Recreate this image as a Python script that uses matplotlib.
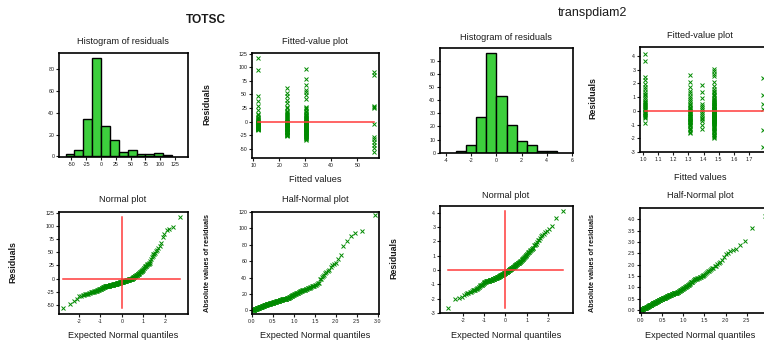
import matplotlib
matplotlib.use('Agg')
import matplotlib.pyplot as plt
import numpy as np
from statistics import NormalDist

plt.rcParams['font.family'] = ['Liberation Sans', 'DejaVu Sans']

# ---- TOTSC model: fitted level of each group and its residuals ----
totsc_fits = [11.9, 22.8, 30.2, 56.2]
totsc_res_1 = [116.3, 94.6, 46.1, 37.8, 29.4, 21.2,
               -14.7, -14.3, -13.8, -13.6, -13.1, -12.8, -12.2, -11.9, -11.5, -11.0,
               -10.6, -10.3, -9.9, -9.4, -9.1, -8.8, -8.2, -7.9, -7.3, -6.9,
               -6.4, -5.8, -5.1, -4.7, -3.9, -3.2, -2.6, -1.8, -1.1, -0.4,
               0.7, 2.3, 3.6, 5.4, 7.2, 9.0, 11.7, 13.6]
totsc_res_2 = [62.4, 53.1, 47.2, 40.3, 33.6, 27.4, 24.1, 20.2, 17.9, 16.3,
               0.8, 2.6, 4.1, 5.9, 7.6, 9.4, 11.2, 13.8,
               -14.5, -13.9, -13.4, -12.6, -12.0, -11.3, -10.7, -9.9, -9.2, -8.6, -7.9,
               -7.2, -6.6, -5.9, -5.2, -4.4, -3.7, -2.9, -2.2, -1.5, -0.9, -0.3,
               -25.8, -25.3, -24.6, -23.9, -22.8, -22.4, -21.7, -20.6, -19.8, -19.2,
               -18.4, -17.3, -16.5, -15.6]
totsc_res_3 = [97.2, 78.4, 68.1, 58.3, 54.7, 49.2, 41.8, 27.3, 25.1, 23.4, 20.3, 17.2,
               0.4, 1.7, 2.9, 4.3, 5.6, 6.8, 8.1, 9.5, 10.7, 11.9, 13.2, 14.6,
               -14.9, -14.4, -14.0, -13.7, -13.2, -12.9, -12.4, -12.1, -11.6, -11.2,
               -10.8, -10.5, -10.0, -9.6, -9.3, -8.8, -8.5, -8.0, -7.7, -7.2, -6.8,
               -6.3, -5.9, -5.5, -5.0, -4.6, -4.1, -3.7, -3.3, -2.8, -2.4, -1.9, -1.5,
               -1.0, -0.7, -0.3, -0.1,
               -29.6, -28.7, -28.3, -27.4, -26.5, -25.7, -24.8, -24.3, -23.5, -22.6,
               -21.4, -20.8, -20.1, -19.3, -18.6, -17.7, -16.8, -16.1, -15.4,
               -33.1, -32.2, -30.8]
totsc_res_4 = [91.3, 85.2, 29.1, 26.7, 24.3, -3.6, -29.2, -31.4, -38.2, -42.5, -48.1, -56.4]
totsc_bins = [-60, -45, -30, -15, 0, 15, 30, 45, 60, 75, 90, 105, 120]

# ---- transpdiam2 model ----
tp_fits = [1.013, 1.311, 1.391, 1.470, 1.795]
tp_res_1 = [4.15, 3.62, 2.45, 2.21, 1.94, 1.72, 1.55, 1.38, 1.24, 1.13, 0.97, 0.86,
            0.74, 0.66, 0.57, 0.49, 0.41, 0.33, 0.25, 0.18, 0.11, 0.04,
            -0.06, -0.12, -0.19, -0.27, -0.33, -0.41, -0.48, -0.55, -0.87]
tp_res_2 = [2.62, 2.08, 1.76, 1.47, 1.26, 1.05, 0.91,
            0.76, 0.65, 0.52, 0.43, 0.31, 0.22, 0.13, 0.05,
            -0.03, -0.08, -0.14, -0.19, -0.25, -0.31, -0.36, -0.42, -0.47, -0.53,
            -0.58, -0.63, -0.68, -0.72, -0.76, -0.79,
            -0.84, -0.91, -0.98, -1.06, -1.13, -1.24, -1.31, -1.42, -1.51, -1.63]
tp_res_3 = [1.85, 1.37, 0.95, 0.52, 0.36, 0.21, 0.08,
            -0.11, -0.24, -0.38, -0.49, -0.61, -0.72, -1.02, -1.36]
tp_res_4 = [3.05, 2.88, 2.69, 2.51, 2.12, 1.81,
            1.56, 1.47, 1.36, 1.25, 1.16, 1.04, 0.93, 0.84,
            0.77, 0.73, 0.68, 0.63, 0.59, 0.54, 0.49, 0.45, 0.41, 0.36, 0.32, 0.28,
            0.24, 0.19, 0.15, 0.12, 0.08, 0.05, 0.02,
            -0.01, -0.03, -0.06, -0.08, -0.1, -0.12, -0.15, -0.16, -0.19, -0.21,
            -0.23, -0.26, -0.28, -0.3, -0.32, -0.34, -0.37, -0.38, -0.41, -0.42,
            -0.44, -0.46, -0.48, -0.5, -0.51, -0.53, -0.55, -0.56, -0.58, -0.6,
            -0.61, -0.63, -0.64, -0.66, -0.67, -0.69, -0.7, -0.72, -0.73, -0.74,
            -0.75, -0.76, -0.77, -0.78, -0.79, -0.795,
            -0.82, -0.87, -0.92, -0.96, -1.02, -1.08, -1.15, -1.2, -1.27, -1.33,
            -1.4, -1.45, -1.52, -1.58,
            -1.66, -1.74, -1.85, -1.93, -2.01]
tp_res_5 = [2.35, 1.12, 0.47, 0.16, -1.41, -2.66]
tp_bins = [-3.2, -2.4, -1.6, -0.8, 0.0, 0.8, 1.6, 2.4, 3.2, 4.0, 4.8]

W, H = 764, 341
BAR = '#3dcf3d'
DOT = '#008a00'
RED = '#ff3b3b'
TXT = '#1a1a1a'

fig = plt.figure(figsize=(W / 100, H / 100), dpi=100)


def box(x0, x1, y0, y1):
    # axes placed by pixel edges (top-left origin)
    ax = fig.add_axes([x0 / W, 1 - y1 / H, (x1 - x0) / W, (y1 - y0) / H])
    for s in ax.spines.values():
        s.set_linewidth(1.2)
    ax.tick_params(direction='out', length=2.2, width=0.8, labelsize=3.8,
                   pad=1.2, colors=TXT, top=False, right=False)
    return ax


def label(x, y, s, size=6.6, rot=0, weight='normal'):
    fig.text(x / W, 1 - y / H, s, ha='center', va='center', fontsize=size,
             rotation=rot, weight=weight, color=TXT)


def ticks(ax, xt, xl, yt, yl):
    ax.set_xticks(xt)
    ax.set_xticklabels(xl)
    ax.set_yticks(yt)
    ax.set_yticklabels(yl)


nd = NormalDist()


def draw_model(groups, fits, bins, cols, rows, lims, tk):
    res = np.concatenate([np.array(g) for g in groups])
    n = len(res)
    srt = np.sort(res)
    q = np.array([nd.inv_cdf((i - 0.375) / (n + 0.25)) for i in range(1, n + 1)])
    hq = np.array([nd.inv_cdf(0.5 + 0.5 * (i - 0.375) / (n + 0.25)) for i in range(1, n + 1)])
    (ca, cb), (ra, rb) = cols, rows

    # histogram of residuals
    ax = box(*ca, *ra[0])
    ax.hist(res, bins=bins, color=BAR, edgecolor='black', linewidth=1.0)
    ax.set_xlim(lims['hx'])
    ax.set_ylim(lims['hy'])
    ticks(ax, *tk['h'])

    # residuals against fitted values
    ax = box(*cb, *ra[1])
    for f, g in zip(fits, groups):
        ax.plot([f] * len(g), g, 'x', color=DOT, ms=2.3, mew=0.7)
    ax.plot([min(fits), max(fits)], [0, 0], color=RED, lw=1.1)
    ax.set_xlim(lims['fx'])
    ax.set_ylim(lims['fy'])
    ticks(ax, *tk['f'])

    # normal plot
    ax = box(*ca, *rb[0])
    ax.plot(q, srt, 'x', color=DOT, ms=2.3, mew=0.7)
    ax.plot([q.min(), q.max()], [0, 0], color=RED, lw=1.1)
    ax.plot([0, 0], [srt.min(), srt.max()], color=RED, lw=1.1)
    ax.set_xlim(lims['nx'])
    ax.set_ylim(lims['ny'])
    ticks(ax, *tk['n'])

    # half-normal plot
    ax = box(*cb, *rb[1])
    ax.plot(hq, np.sort(np.abs(res)), 'x', color=DOT, ms=2.3, mew=0.7)
    ax.set_xlim(lims['ax'])
    ax.set_ylim(lims['ay'])
    ticks(ax, *tk['a'])


half_x = [0, 0.5, 1.0, 1.5, 2.0, 2.5, 3.0]
half_xl = ['0.0', '0.5', '1.0', '1.5', '2.0', '2.5', '3.0']
norm_x = [-2, -1, 0, 1, 2]
norm_xl = ['-2', '-1', '0', '1', '2']

# TOTSC
t_y = [-50, -25, 0, 25, 50, 75, 100, 125]
draw_model(
    [totsc_res_1, totsc_res_2, totsc_res_3, totsc_res_4], totsc_fits, totsc_bins,
    cols=((59, 188), (252, 379)),
    rows=(((53, 157), (53, 158)), ((212, 314), (212, 314))),
    lims=dict(hx=(-71, 147), hy=(-0.6, 95), fx=(9.5, 58.3), fy=(-67, 126),
              nx=(-2.92, 3.08), ny=(-67, 126), ax=(0, 3.03), ay=(-4.5, 120)),
    tk=dict(h=([-50, -25, 0, 25, 50, 75, 100, 125],
               ['-50', '-25', '0', '25', '50', '75', '100', '125'],
               [0, 20, 40, 60, 80], ['0', '20', '40', '60', '80']),
            f=([10, 20, 30, 40, 50], ['10', '20', '30', '40', '50'],
               t_y, [str(v) for v in t_y]),
            n=(norm_x, norm_xl, t_y, [str(v) for v in t_y]),
            a=(half_x, half_xl, [0, 20, 40, 60, 80, 100, 120],
               ['0', '20', '40', '60', '80', '100', '120'])))

# transpdiam2 (right column runs off the edge of the figure)
p_y = [-3, -2, -1, 0, 1, 2, 3, 4]
draw_model(
    [tp_res_1, tp_res_2, tp_res_3, tp_res_4, tp_res_5], tp_fits, tp_bins,
    cols=((440, 573), (640, 767)),
    rows=(((48, 153), (47, 152)), ((206, 313), (208, 313))),
    lims=dict(hx=(-4.5, 6.1), hy=(-0.3, 80), fx=(0.98, 1.82), fy=(-2.97, 4.64),
              nx=(-3.1, 3.2), ny=(-2.98, 4.47), ax=(-0.02, 2.98), ay=(-0.12, 4.49)),
    tk=dict(h=([-4, -2, 0, 2, 4, 6], ['-4', '-2', '0', '2', '4', '6'],
               [0, 10, 20, 30, 40, 50, 60, 70],
               ['0', '10', '20', '30', '40', '50', '60', '70']),
            f=([1.0, 1.1, 1.2, 1.3, 1.4, 1.5, 1.6, 1.7],
               ['1.0', '1.1', '1.2', '1.3', '1.4', '1.5', '1.6', '1.7'],
               p_y, [str(v) for v in p_y]),
            n=(norm_x, norm_xl, p_y, [str(v) for v in p_y]),
            a=(half_x[:-1], half_xl[:-1], [0, 0.5, 1.0, 1.5, 2.0, 2.5, 3.0, 3.5, 4.0],
               ['0.0', '0.5', '1.0', '1.5', '2.0', '2.5', '3.0', '3.5', '4.0'])))

# panel headings
label(206, 20, 'TOTSC', size=8.6, weight='bold')
label(592, 13, 'transpdiam2', size=9)

for x, y in [(123, 42), (506, 37)]:
    label(x, y, 'Histogram of residuals')
for x, y in [(315, 42), (700, 36)]:
    label(x, y, 'Fitted-value plot')
for x, y in [(123, 199), (506, 195)]:
    label(x, y, 'Normal plot')
for x, y in [(315, 199), (700, 195)]:
    label(x, y, 'Half-Normal plot')
for x, y in [(315, 180), (700, 177)]:
    label(x, y, 'Fitted values')
for x in [123, 315, 506, 700]:
    label(x, 335, 'Expected Normal quantiles')

label(207, 104, 'Residuals', size=6.4, rot=90, weight='bold')
label(593, 98, 'Residuals', size=6.4, rot=90, weight='bold')
label(13, 262, 'Residuals', size=6.4, rot=90, weight='bold')
label(394, 258, 'Residuals', size=6.4, rot=90, weight='bold')
label(207, 263, 'Absolute values of residuals', size=5.2, rot=90, weight='bold')
label(593, 263, 'Absolute values of residuals', size=5.2, rot=90, weight='bold')

fig.savefig('out.png', dpi=100)
